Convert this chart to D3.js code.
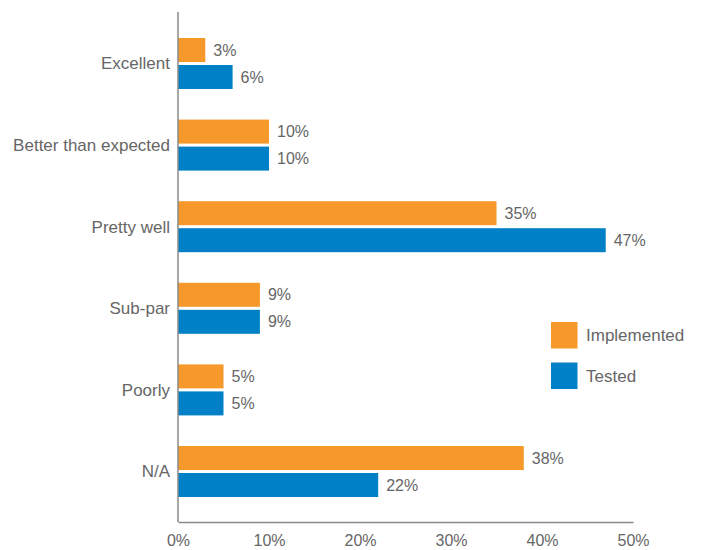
<!DOCTYPE html>
<html>
<head>
<meta charset="utf-8">
<script src="https://cdn.jsdelivr.net/npm/d3@7"></script>
<style>
  html, body { margin: 0; padding: 0; background: #fff; }
  svg text { font-family: "Liberation Sans", Arial, sans-serif; fill: #666; }
</style>
</head>
<body>
<svg id="chart" width="704" height="550"></svg>
<script>
// Survey answers, one group of two bars per category
const categories = ["Excellent", "Better than expected", "Pretty well", "Sub-par", "Poorly", "N/A"];
const seriesNames = ["Implemented", "Tested"];
const implemented = [3, 10, 35, 9, 5, 38];
const tested = [6, 10, 47, 9, 5, 22];
const xTicks = [0, 10, 20, 30, 40, 50];
const colors = ["#F7982A", "#0080C6"];

const rows = categories.map((c, i) => ({
  category: c,
  values: [
    { series: seriesNames[0], value: implemented[i] },
    { series: seriesNames[1], value: tested[i] }
  ]
}));

const svg = d3.select("#chart");
const plotLeft = 178, plotRight = 633, plotTop = 12, plotBottom = 522;

const x = d3.scaleLinear().domain([0, 50]).range([plotLeft, plotRight]);
const y = d3.scaleBand().domain(categories).range([22.7, 512.3]);
const inner = d3.scaleBand().domain(seriesNames)
  .range([y.bandwidth() / 2 - 25.5, y.bandwidth() / 2 + 25.5])
  .paddingInner(0.111);
const color = d3.scaleOrdinal().domain(seriesNames).range(colors);

// Bars and value labels
const groups = svg.append("g").selectAll("g")
  .data(rows).join("g")
  .attr("transform", d => `translate(0,${y(d.category)})`);

groups.selectAll("rect")
  .data(d => d.values).join("rect")
  .attr("x", x(0))
  .attr("y", d => inner(d.series))
  .attr("width", d => x(d.value) - x(0))
  .attr("height", inner.bandwidth())
  .attr("fill", d => color(d.series));

groups.selectAll("text.value")
  .data(d => d.values).join("text")
  .attr("class", "value")
  .attr("x", d => x(d.value) + 8)
  .attr("y", d => inner(d.series) + inner.bandwidth() / 2)
  .attr("dy", "0.35em")
  .attr("font-size", 16)
  .text(d => d.value + "%");

// Category labels
svg.append("g").selectAll("text")
  .data(categories).join("text")
  .attr("x", plotLeft - 8)
  .attr("y", d => y(d) + y.bandwidth() / 2)
  .attr("dy", "0.35em")
  .attr("text-anchor", "end")
  .attr("font-size", 17)
  .text(d => d);

// Axes
const xAxis = svg.append("g")
  .attr("transform", `translate(0,${plotBottom})`)
  .call(d3.axisBottom(x).tickValues(xTicks).tickSize(0).tickPadding(13).tickFormat(d => d + "%"));
xAxis.select(".domain").attr("stroke", "#8a8a8a").attr("stroke-width", 1.5);
xAxis.selectAll("text").attr("font-size", 16).attr("fill", "#666")
  .style("font-family", '"Liberation Sans", Arial, sans-serif');

svg.append("line")
  .attr("x1", plotLeft).attr("x2", plotLeft)
  .attr("y1", plotTop).attr("y2", plotBottom)
  .attr("stroke", "#8a8a8a").attr("stroke-width", 1.5);

// Legend
const legend = svg.append("g").selectAll("g")
  .data(seriesNames).join("g")
  .attr("transform", (d, i) => `translate(551,${322 + i * 40.5})`);
legend.append("rect")
  .attr("width", 26.5).attr("height", 26.5)
  .attr("fill", d => color(d));
legend.append("text")
  .attr("x", 35).attr("y", 13.5).attr("dy", "0.35em")
  .attr("font-size", 17)
  .text(d => d);
</script>
</body>
</html>
